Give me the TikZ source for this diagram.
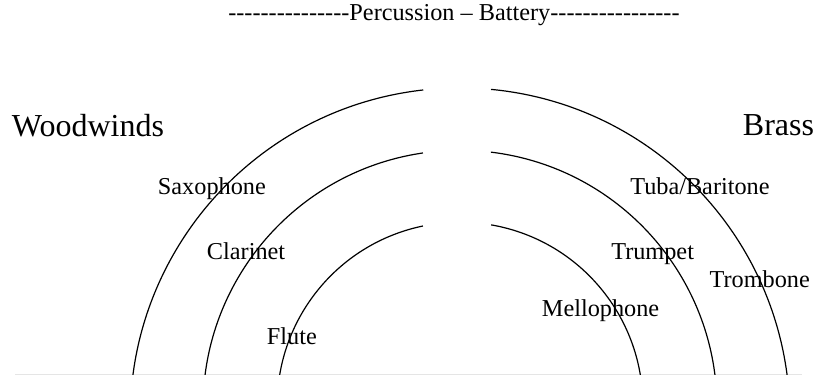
\documentclass[tikz,border=0pt]{standalone}
\usepackage{fontspec}
\setmainfont{Liberation Serif}
\newfontfamily\titlefont{Liberation Serif}[Ligatures=TeXOff]
\begin{document}
\begin{tikzpicture}[x=0.75pt,y=0.75pt,
  ring/.style={line width=0.9pt,black},
  small/.style={inner sep=0pt,anchor=base west,font=\fontsize{18.2}{22}\selectfont},
  big/.style={inner sep=0pt,anchor=base west,font=\fontsize{24}{28}\selectfont}]
\useasboundingbox (0,0) rectangle (820,377);
\coordinate (O1) at (460,-40.7);
\coordinate (O2) at (460,-30.2);
\coordinate (O3) at (460,-28);
\draw[black!10,line width=0.75pt] (15,2) -- (802,2);
\begin{scope}
\clip (0,2.5) rectangle (820,377);
% outer
\draw[ring] (O1) ++(96.4:247.35pt) arc[start angle=96.4,end angle=185,radius=247.35pt];
\draw[ring] (O1) ++(84.6:247.35pt) arc[start angle=84.6,end angle=-5,radius=247.35pt];
% middle
\draw[ring] (O2) ++(98.3:192.7pt) arc[start angle=98.3,end angle=185,radius=192.7pt];
\draw[ring] (O2) ++(83.1:192.7pt) arc[start angle=83.1,end angle=-5,radius=192.7pt];
% inner
\draw[ring] (O3) ++(101.7:137.1pt) arc[start angle=101.7,end angle=185,radius=137.1pt];
\draw[ring] (O3) ++(80.2:137.1pt) arc[start angle=80.2,end angle=-5,radius=137.1pt];
\end{scope}
\node[small,font=\fontsize{18.2}{22}\titlefont] (title) at (228,356.5) {---------------Percussion – Battery----------------};
\node[big] (ww) at (11.7,240.3) {Woodwinds};
\node[big,anchor=base east] (brass) at (814.3,241) {Brass};
\node[small] (sax) at (157.7,182) {Saxophone};
\node[small] (cla) at (206.7,117) {Clarinet};
\node[small] (flu) at (266.7,32) {Flute};
\node[small] (tuba) at (630,182.7) {Tuba/Baritone};
\node[small] (trp) at (611,117.7) {Trumpet};
\node[small] (trb) at (709.3,89.7) {Trombone};
\node[small] (mel) at (541.7,60.3) {Mellophone};
\end{tikzpicture}
\end{document}
